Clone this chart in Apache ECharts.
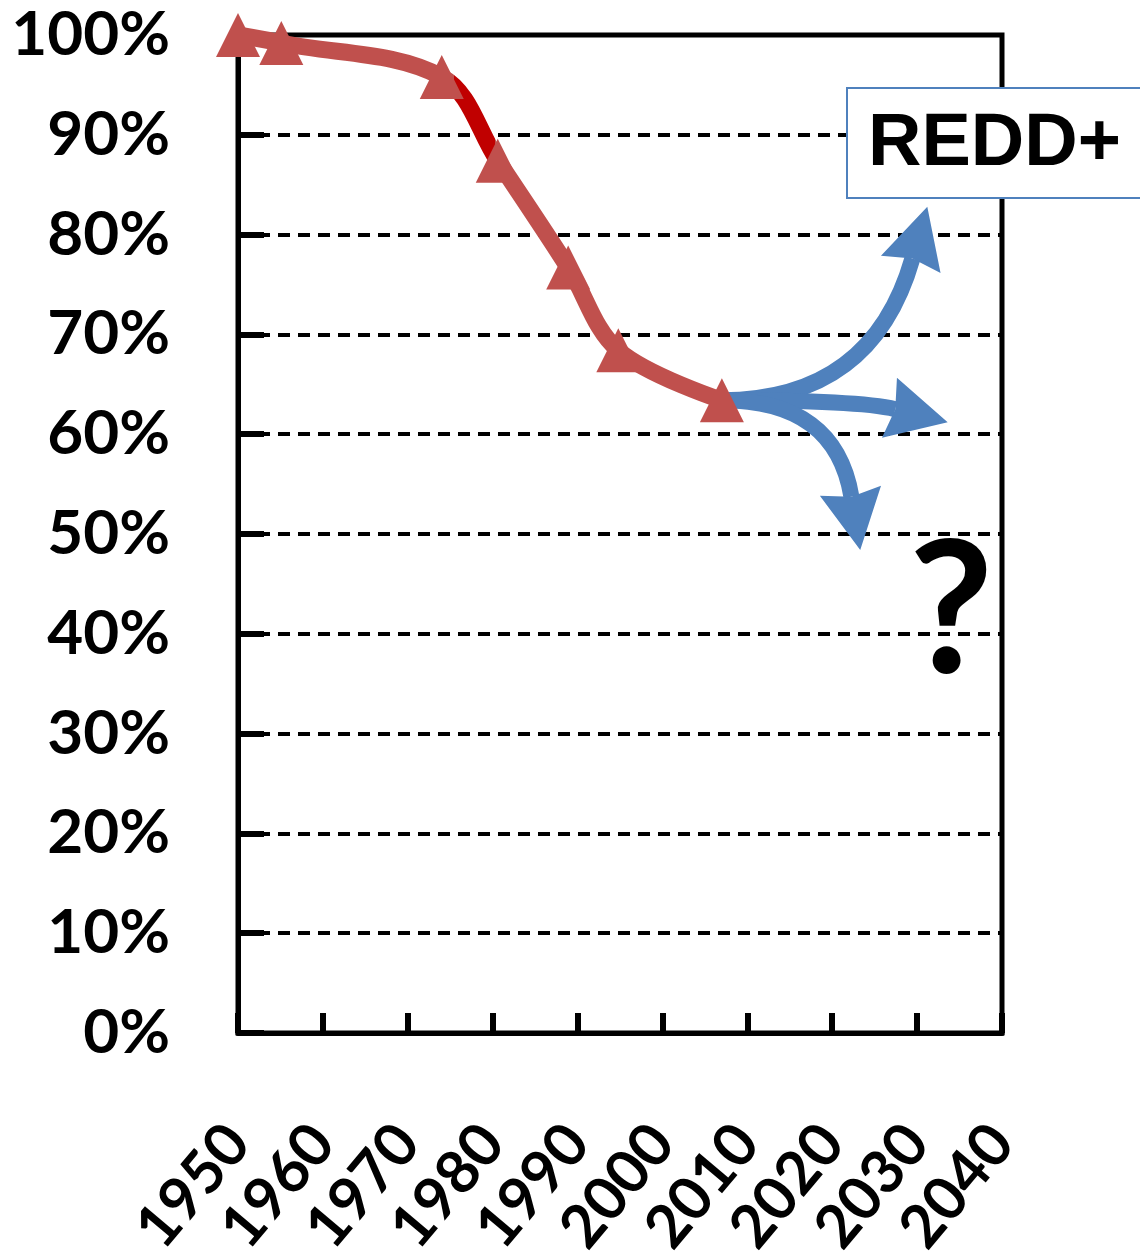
<!DOCTYPE html>
<html lang="en">
<head>
  <meta charset="UTF-8">
  <title>REDD+ forest cover</title>
  <script src="https://cdn.jsdelivr.net/npm/echarts@6/dist/echarts.min.js"></script>
</head>
<body style="margin:0">
<div id="main" style="width:1140px;height:1257px"></div>
<script type="text/javascript">
  // observed forest cover (share of 1950)
  var years = [1950, 1955.1, 1974.0, 1980.6, 1988.9, 1994.8, 2007.0];
  var cover = [100, 99.2, 95.8, 87.4, 76.7, 68.4, 63.4];

  // three possible futures, arrows leaving the last observation
  var futureStart = [2007.0, 63.4];
  var futureTipYear = [2031.2, 2033.6, 2023.3];
  var futureTipValue = [82.8, 61.2, 48.4];
  var arrowHeading = [74, -14, -80.6]; // degrees, direction the head points

  var xTicks = [1950, 1960, 1970, 1980, 1990, 2000, 2010, 2020, 2030, 2040];

  var chartDom = document.getElementById('main');
  var myChart = echarts.init(chartDom);
  var option;

  var labelFont = 'Lato';

  function renderArrow(params, api) {
    var start = api.coord([api.value(0), api.value(1)]);
    var tip = api.coord([api.value(2), api.value(3)]);
    var a = api.value(4) * Math.PI / 180;
    var d = [Math.cos(a), -Math.sin(a)];
    var headLen = 60, headHalf = 31, notch = 6;
    // control point: shaft leaves horizontally, arrives along the heading
    var s = (tip[1] - start[1]) / d[1];
    var cp = [tip[0] - s * d[0], start[1]];
    var base = [tip[0] - headLen * d[0], tip[1] - headLen * d[1]];
    var n = [-d[1], d[0]];
    return {
      type: 'group',
      children: [
        {
          type: 'bezierCurve',
          shape: { x1: start[0], y1: start[1], x2: base[0] + d[0] * notch, y2: base[1] + d[1] * notch, cpx1: cp[0], cpy1: cp[1] },
          style: { stroke: '#4f81bd', lineWidth: 16, fill: null }
        },
        {
          type: 'polygon',
          shape: {
            points: [
              tip,
              [base[0] + headHalf * n[0], base[1] + headHalf * n[1]],
              [base[0] + notch * d[0], base[1] + notch * d[1]],
              [base[0] - headHalf * n[0], base[1] - headHalf * n[1]]
            ]
          },
          style: { fill: '#4f81bd' }
        }
      ]
    };
  }

  option = {
    animation: false,
    grid: {
      left: 238, top: 35, right: 138, bottom: 224,
      outerBoundsMode: 'none',
      show: true, borderColor: '#000', borderWidth: 5
    },
    xAxis: {
      type: 'value',
      min: xTicks[0],
      max: xTicks[xTicks.length - 1],
      interval: 10,
      axisLine: { lineStyle: { color: '#000', width: 5 } },
      axisTick: { inside: true, length: 20, lineStyle: { color: '#000', width: 6 } },
      splitLine: { show: false },
      axisLabel: {
        rotate: 50,
        margin: 100,
        color: '#000',
        fontFamily: labelFont,
        fontWeight: 'bold',
        fontSize: 60,
        formatter: function (v) { return String(v); }
      }
    },
    yAxis: {
      type: 'value',
      min: 0,
      max: 100,
      interval: 10,
      axisLine: { show: true, lineStyle: { color: '#000', width: 5 } },
      axisTick: { show: true, inside: true, length: 26, lineStyle: { color: '#000', width: 6 } },
      splitLine: { lineStyle: { color: '#000', width: 4, type: [12, 8] } },
      axisLabel: {
        formatter: '{value}%',
        margin: 68,
        color: '#000',
        fontFamily: labelFont,
        fontWeight: 'bold',
        fontSize: 62
      }
    },
    visualMap: {
      show: false,
      type: 'piecewise',
      seriesIndex: 1,
      dimension: 0,
      pieces: [
        { lt: 1975.5, color: '#c0504d' },
        { gte: 1975.5, lte: 1980.3, color: '#c00000' },
        { gt: 1980.3, color: '#c0504d' }
      ]
    },
    series: [
      {
        name: 'scenarios',
        type: 'custom',
        z: 2,
        renderItem: renderArrow,
        data: futureTipYear.map(function (y, i) {
          return [futureStart[0], futureStart[1], y, futureTipValue[i], arrowHeading[i]];
        })
      },
      {
        name: 'forest cover',
        type: 'line',
        z: 3,
        clip: false,
        smooth: 0.35,
        symbol: 'triangle',
        symbolSize: 44,
        itemStyle: { color: '#c0504d' },
        lineStyle: { width: 17 },
        data: years.map(function (y, i) { return [y, cover[i]]; })
      }
    ],
    graphic: [
      {
        type: 'rect',
        z: 10,
        shape: { x: 847, y: 88, width: 300, height: 110 },
        style: { fill: '#fff', stroke: '#4f81bd', lineWidth: 2 }
      },
      {
        type: 'text',
        z: 11,
        x: 868, y: 145,
        style: {
          text: 'REDD+',
          fill: '#000',
          font: 'bold 74px "Liberation Sans"',
          verticalAlign: 'middle'
        }
      },
      {
        type: 'text',
        z: 11,
        x: 951, y: 614,
        style: {
          text: '?',
          fill: '#000',
          font: 'bold 184px Lato',
          align: 'center',
          verticalAlign: 'middle'
        }
      }
    ]
  };

  option && myChart.setOption(option);
</script>
</body>
</html>
